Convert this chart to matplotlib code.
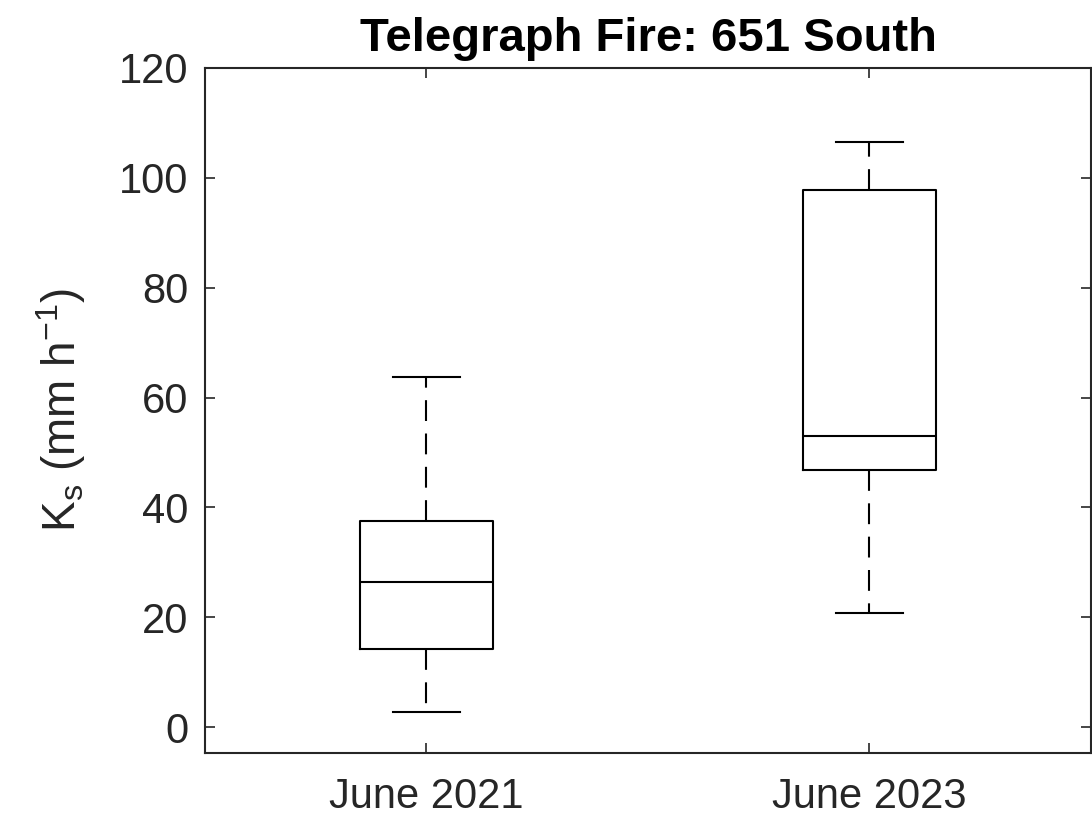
import matplotlib
matplotlib.use("Agg")
import matplotlib.pyplot as plt

# Saturated hydraulic conductivity summary statistics per survey
categories = ["June 2021", "June 2023"]
whisker_low = [2.7, 20.7]
q1 = [14.3, 46.9]
median = [26.5, 53.0]
q3 = [37.6, 97.8]
whisker_high = [63.8, 106.6]

yticks = [0, 20, 40, 60, 80, 100, 120]

plt.rcParams["font.family"] = ["Liberation Sans", "DejaVu Sans"]
ink = "#262626"

fig = plt.figure(figsize=(10.92, 8.21), dpi=100)
ax = fig.add_axes([0.1877, 0.0828, 0.8113, 0.8344])

stats = []
for i, name in enumerate(categories):
    stats.append(dict(label=name, whislo=whisker_low[i], q1=q1[i], med=median[i],
                      q3=q3[i], whishi=whisker_high[i], fliers=[]))

ax.bxp(stats, positions=[1, 2], widths=0.3, showfliers=False,
       boxprops=dict(color="black", linewidth=1.5),
       medianprops=dict(color="black", linewidth=1.5),
       whiskerprops=dict(color="black", linewidth=1.5, linestyle=(0, (10, 6))),
       capprops=dict(color="black", linewidth=1.5),
       capwidths=0.15)

ax.set_xlim(0.5, 2.5)
ax.set_ylim(-4.7, 120)
ax.set_yticks(yticks)
ax.set_xticks([1, 2])
ax.set_xticklabels(categories)

for s in ax.spines.values():
    s.set_color(ink)
    s.set_linewidth(1.5)
ax.tick_params(which="both", direction="in", top=True, right=True,
               length=7, width=1.2, color=ink, labelcolor=ink, labelsize=30,
               pad=12)
ax.tick_params(axis="x", pad=17)

ax.set_ylabel(r"K$_\mathregular{s}$ (mm h$^\mathregular{-1}$)", fontsize=33,
              color=ink, labelpad=22)
ax.set_title("Telegraph Fire: 651 South", fontsize=34, fontweight="bold",
             color="black", pad=12)

fig.savefig("out.png", dpi=100, facecolor="white")
